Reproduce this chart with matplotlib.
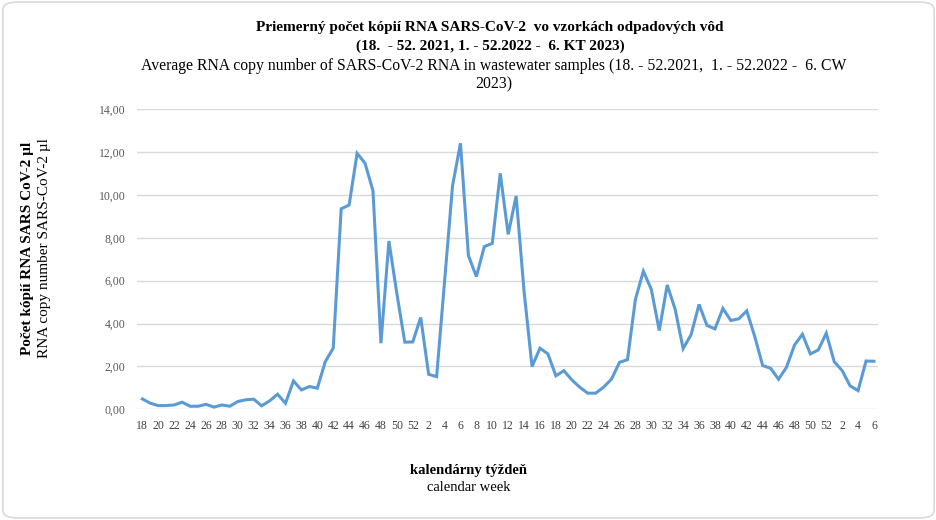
import matplotlib
matplotlib.use("Agg")
import matplotlib.pyplot as plt
from matplotlib.patches import FancyBboxPatch

plt.rcParams['font.family'] = ['Liberation Serif', 'DejaVu Serif']

# tyzdne: 18.-52. 2021, 1.-52. 2022, 1.-6. 2023
tyzdne = list(range(18, 53)) + list(range(1, 53)) + list(range(1, 7))

hodnoty_2021 = [0.48, 0.28, 0.17, 0.17, 0.20, 0.33, 0.14, 0.14, 0.23, 0.10,
                0.20, 0.14, 0.36, 0.44, 0.47, 0.16, 0.39, 0.70, 0.28, 1.32,
                0.90, 1.06, 0.98, 2.22, 2.85, 9.35, 9.53, 11.94, 11.48, 10.19,
                3.08, 7.85, 5.40, 3.13, 3.14]
hodnoty_2022 = [4.28, 1.63, 1.52, 5.96, 10.42, 12.41, 7.17, 6.19, 7.59, 7.74,
                11.01, 8.16, 9.95, 5.49, 1.99, 2.85, 2.58, 1.56, 1.80, 1.37,
                1.03, 0.75, 0.75, 1.03, 1.41, 2.19, 2.31, 5.13, 6.44, 5.59,
                3.67, 5.80, 4.66, 2.83, 3.48, 4.89, 3.91, 3.75, 4.70, 4.14,
                4.22, 4.59, 3.40, 2.04, 1.91, 1.40, 1.96, 2.99, 3.50, 2.58,
                2.77, 3.55]
hodnoty_2023 = [2.22, 1.80, 1.09, 0.87, 2.25, 2.24]

hodnoty = hodnoty_2021 + hodnoty_2022 + hodnoty_2023
x = list(range(len(hodnoty)))

fig = plt.figure(figsize=(9.37, 5.2), dpi=100)

# ramik okolo grafu
ramik = FancyBboxPatch((0.003, 0.004), 0.994, 0.992,
                       boxstyle="round,pad=0,rounding_size=0.015",
                       transform=fig.transFigure, facecolor='white',
                       edgecolor='#D9D9D9', linewidth=1.2, zorder=-10)
fig.patches.append(ramik)

ax = fig.add_axes([0.146, 0.213, 0.791, 0.577])
ax.set_facecolor('none')
ax.plot(x, hodnoty, color='#5B9BD5', linewidth=2.2, solid_joinstyle='miter')

ax.set_ylim(0, 14)
ax.set_xlim(-0.7, 92.5)
ax.set_yticks([0, 2, 4, 6, 8, 10, 12, 14])
ax.set_yticklabels([f"{v:.2f}".replace('.', ',') for v in range(0, 15, 2)], fontsize=8.5, color='#595959')
ax.set_xticks(x[::2])
ax.set_xticklabels([str(t) for t in tyzdne[::2]], fontsize=8.5, color='#404040')
ax.tick_params(length=0, pad=8)
ax.grid(axis='y', color='#D9D9D9', linewidth=1)
ax.set_axisbelow(True)
for s in ax.spines.values():
    s.set_visible(False)

# nadpisy
fig.text(0.523, 0.948, "Priemerný počet kópií RNA SARS-CoV-2  vo vzorkách odpadových vôd",
         ha='center', va='center', fontsize=11, fontweight='bold')
fig.text(0.523, 0.912, "(18.  - 52. 2021, 1. - 52.2022 -  6. KT 2023)",
         ha='center', va='center', fontsize=11, fontweight='bold')
fig.text(0.527, 0.873, "Average RNA copy number of SARS-CoV-2 RNA in wastewater samples (18. - 52.2021,  1. - 52.2022 -  6. CW",
         ha='center', va='center', fontsize=11.3)
fig.text(0.527, 0.837, "2023)", ha='center', va='center', fontsize=11.3)

# popisy osi
fig.text(0.029, 0.523, "Počet kópií RNA SARS CoV-2 µl", rotation=90,
         ha='center', va='center', fontsize=11, fontweight='bold')
fig.text(0.048, 0.523, "RNA copy number SARS-CoV-2 µl", rotation=90,
         ha='center', va='center', fontsize=11)
fig.text(0.5, 0.096, "kalendárny týždeň", ha='center', va='center',
         fontsize=10.5, fontweight='bold')
fig.text(0.5, 0.062, "calendar week", ha='center', va='center', fontsize=10.5)

fig.savefig("out.png", dpi=100)
